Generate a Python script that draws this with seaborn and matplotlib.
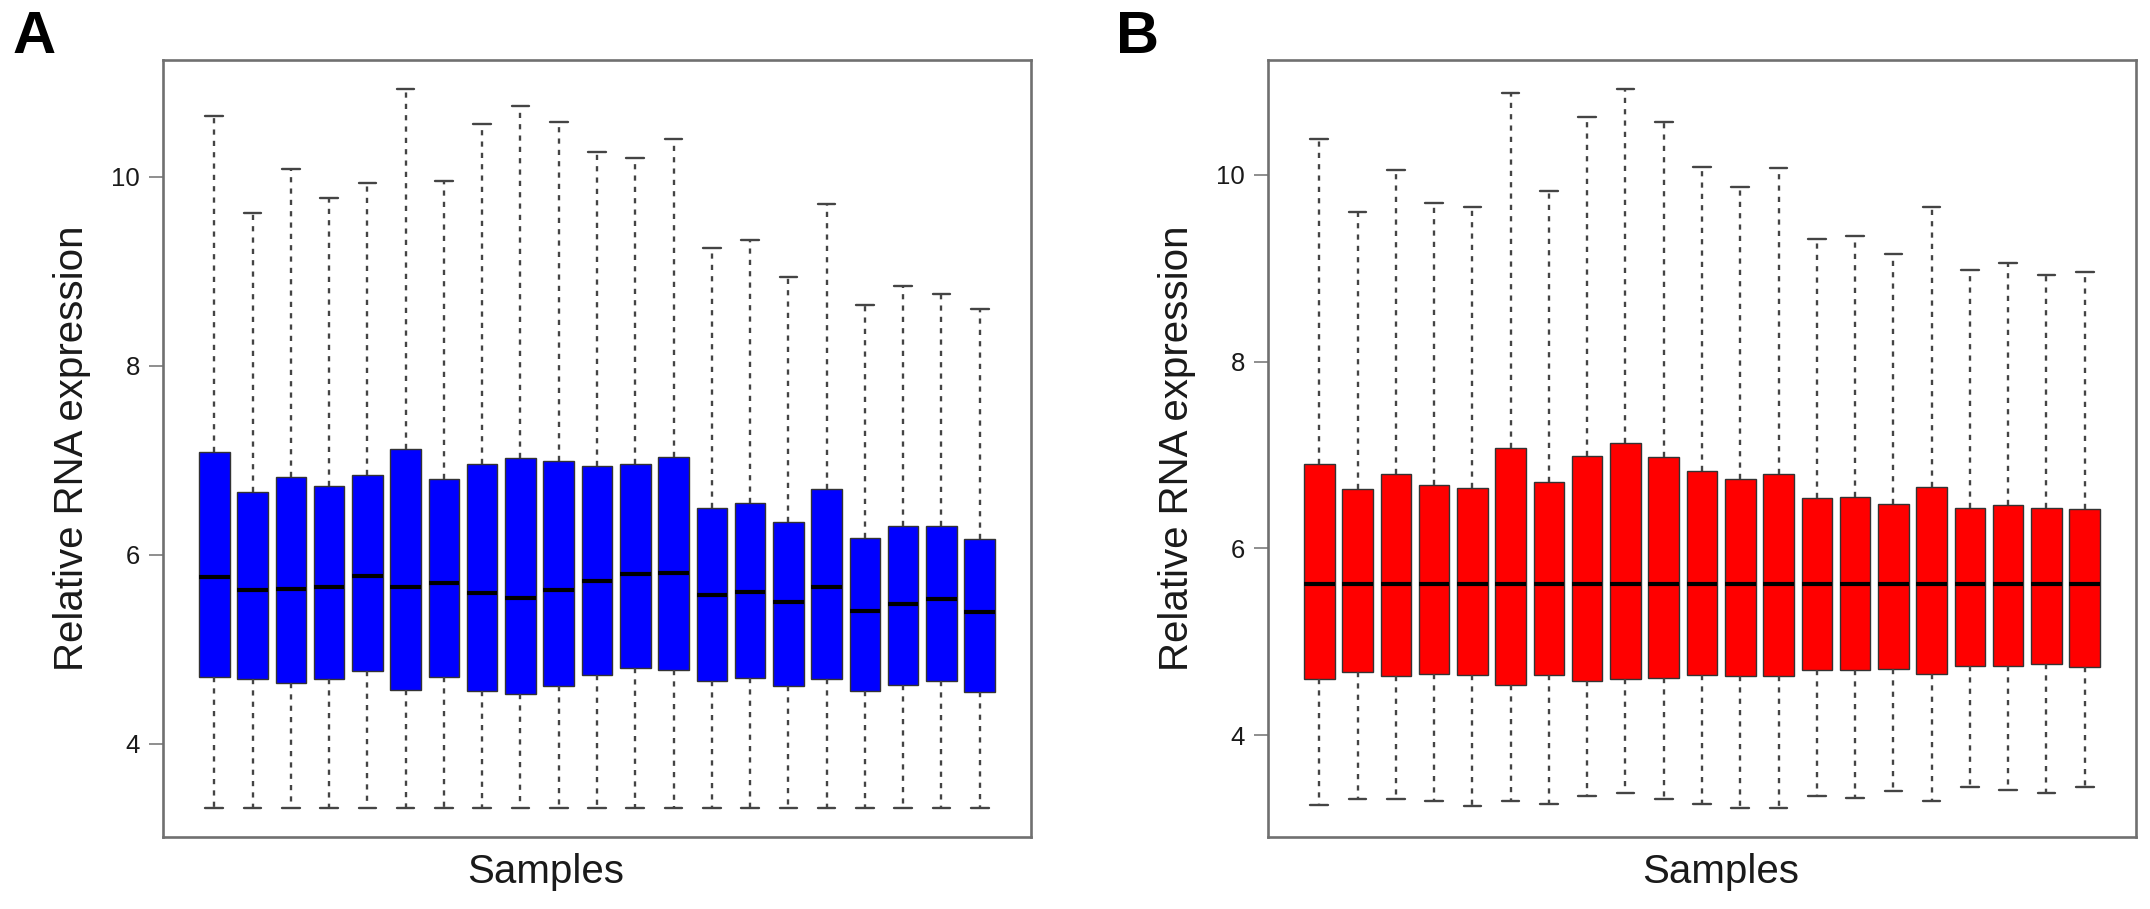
import numpy as np
import pandas as pd
import matplotlib
matplotlib.use("Agg")
import matplotlib.pyplot as plt
import seaborn as sns

# 5-number summaries (21 samples per panel)
a_lower = [3.32] * 21
a_q1 = [4.71, 4.69, 4.64, 4.69, 4.77, 4.57, 4.71, 4.56, 4.53, 4.61, 4.73,
        4.80, 4.78, 4.67, 4.70, 4.61, 4.69, 4.56, 4.62, 4.67, 4.55]
a_median = [5.77, 5.63, 5.64, 5.66, 5.78, 5.66, 5.70, 5.60, 5.54, 5.63, 5.72,
            5.80, 5.81, 5.58, 5.61, 5.50, 5.66, 5.41, 5.48, 5.53, 5.40]
a_q3 = [7.09, 6.66, 6.82, 6.73, 6.84, 7.12, 6.80, 6.96, 7.02, 6.99, 6.94,
        6.96, 7.03, 6.50, 6.55, 6.35, 6.70, 6.18, 6.30, 6.31, 6.17]
a_upper = [10.64, 9.62, 10.08, 9.77, 9.93, 10.93, 9.95, 10.56, 10.75, 10.58, 10.26,
           10.20, 10.40, 9.25, 9.33, 8.94, 9.71, 8.64, 8.84, 8.76, 8.60]

b_lower = [3.25, 3.32, 3.32, 3.30, 3.24, 3.30, 3.27, 3.35, 3.38, 3.32, 3.27,
           3.22, 3.22, 3.35, 3.33, 3.40, 3.30, 3.45, 3.41, 3.38, 3.45]
b_q1 = [4.60, 4.68, 4.64, 4.66, 4.65, 4.54, 4.65, 4.58, 4.60, 4.61, 4.65,
        4.64, 4.63, 4.70, 4.70, 4.71, 4.66, 4.74, 4.74, 4.76, 4.73]
b_median = [5.62] * 21
b_q3 = [6.90, 6.64, 6.80, 6.68, 6.65, 7.07, 6.71, 6.99, 7.13, 6.98, 6.83,
        6.74, 6.80, 6.54, 6.55, 6.48, 6.66, 6.43, 6.47, 6.43, 6.42]
b_upper = [10.38, 9.60, 10.05, 9.70, 9.66, 10.87, 9.83, 10.62, 10.92, 10.56, 10.08,
           9.87, 10.07, 9.31, 9.34, 9.15, 9.66, 8.98, 9.06, 8.93, 8.96]

samples = [f"S{i + 1}" for i in range(21)]
y_ticks = [4, 6, 8, 10]


def long_table(lo, q1, med, q3, hi):
    rows = []
    for s, vals in zip(samples, zip(lo, q1, med, q3, hi)):
        for v in vals:
            rows.append({"sample": s, "value": v})
    return pd.DataFrame(rows)


sns.set_style("white")
plt.rcParams["font.family"] = ["Liberation Sans", "DejaVu Sans"]

fig = plt.figure(figsize=(21.5, 9.09), dpi=100)
ax_a = fig.add_axes([163 / 2150, 72 / 909, 868 / 2150, 777 / 909])
ax_b = fig.add_axes([1268 / 2150, 72 / 909, 868 / 2150, 777 / 909])

panels = [
    (ax_a, long_table(a_lower, a_q1, a_median, a_q3, a_upper), "#0000FF", 0.441),
    (ax_b, long_table(b_lower, b_q1, b_median, b_q3, b_upper), "#FF0000", 0.521),
]

for ax, df, col, xlab_pos in panels:
    sns.boxplot(
        data=df, x="sample", y="value", order=samples, ax=ax,
        color=col, saturation=1, width=0.8, whis=(0, 100),
        linecolor="#333333", linewidth=1.0, fliersize=0,
        medianprops={"color": "black", "linewidth": 3.0},
        whiskerprops={"color": "#444444", "linewidth": 1.7,
                      "linestyle": (0, (2.2, 2.6))},
        capprops={"color": "#444444", "linewidth": 1.7},
        capwidths=0.46,
    )
    n = len(samples)
    ax.set_xlim(-0.5 - 0.04 * n, n - 0.5 + 0.04 * n)
    lo, hi = df["value"].min(), df["value"].max()
    pad = 0.04 * (hi - lo)
    ax.set_ylim(lo - pad, hi + pad)
    ax.set_xticks([])
    ax.set_yticks(y_ticks)
    ax.set_yticklabels([str(t) for t in y_ticks])
    ax.tick_params(axis="y", left=True, length=10, width=1.1, pad=6.5,
                   color="#707070", labelsize=18.5, labelcolor="#1a1a1a")
    for sp in ax.spines.values():
        sp.set_visible(True)
        sp.set_color("#707070")
        sp.set_linewidth(1.9)
    ax.set_xlabel("Samples", fontsize=29, color="#1a1a1a")
    ax.set_ylabel("Relative RNA expression", fontsize=29, color="#1a1a1a")
    ax.xaxis.set_label_coords(xlab_pos, -0.02)
    ax.yaxis.set_label_coords(-0.083, 0.5)

fig.text(13 / 2150, 1 - 53 / 909, "A", fontsize=43, fontweight="bold",
         color="black", ha="left", va="baseline")
fig.text(1116 / 2150, 1 - 53 / 909, "B", fontsize=43, fontweight="bold",
         color="black", ha="left", va="baseline")

fig.savefig("out.png", dpi=100, facecolor="white")
